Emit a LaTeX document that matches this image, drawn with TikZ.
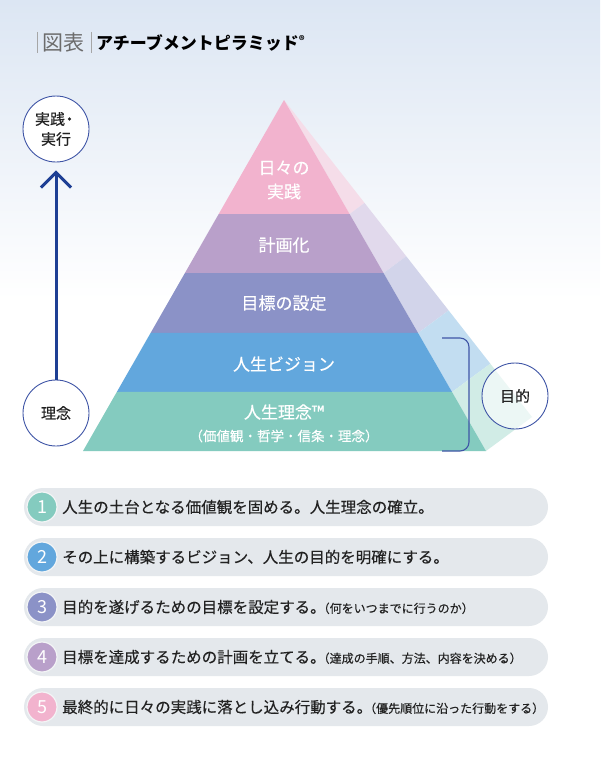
\documentclass[tikz,border=0pt]{standalone}
\usepackage{fontspec}
\setmainfont{Noto Sans CJK JP}
\newfontfamily\jpm{Noto Sans CJK JP}[FakeBold=0.3]
\usetikzlibrary{calc,arrows.meta}
\definecolor{bgtop}{HTML}{DCE6F3}
\definecolor{cpink}{HTML}{F2B3CE}
\definecolor{clav}{HTML}{B9A0CA}
\definecolor{cpur}{HTML}{8B92C7}
\definecolor{cblue}{HTML}{62A7DD}
\definecolor{cgreen}{HTML}{84CBBF}
\definecolor{spink}{HTML}{F5DDE9}
\definecolor{slav}{HTML}{E1D9EC}
\definecolor{spur}{HTML}{D2D4EA}
\definecolor{sblue}{HTML}{C2DDF1}
\definecolor{sgreen}{HTML}{D1ECE6}
\definecolor{navy}{HTML}{1E3F94}
\definecolor{ring}{HTML}{3F55A6}
\definecolor{pillgray}{HTML}{E4E8EC}
\definecolor{txt}{HTML}{222222}
\tikzset{
  lbl/.style={text=white, inner sep=0pt, align=center, font=\jpm\fontsize{17}{24}\selectfont},
  ringc/.style={circle, draw=ring, line width=0.9pt, fill=white, minimum size=66pt, inner sep=0pt, align=center, text=txt, font=\jpm\fontsize{15}{20}\selectfont},
  pill/.style={rounded corners=19pt, fill=pillgray, minimum width=524pt, minimum height=38pt, inner sep=0pt},
  numc/.style={circle, minimum size=30pt, inner sep=0pt, draw=white!55!pillgray, line width=1.2pt, text=white, font=\fontsize{18}{18}\selectfont},
  itemtxt/.style={anchor=west, inner sep=0pt, text=txt, font=\jpm\fontsize{15.5}{15.5}\selectfont},
}
\newcommand{\sm}[1]{\kern-8pt{\fontsize{12}{12}\selectfont #1}}
\begin{document}
\begin{tikzpicture}[x=1pt, y=-1pt]
\useasboundingbox (0,0) rectangle (600,760);
% background
\shade[top color=bgtop, bottom color=white] (0,0) rectangle (600,300);
\fill[white] (0,300) rectangle (600,760);
% title
\draw[gray!70, line width=0.8pt] (37,32) -- (37,53);
\node[inner sep=0pt, text=gray!85!black, font=\fontsize{21}{21}\selectfont] (zuhyo) at (63,43) {図表};
\draw[gray!70, line width=0.8pt] (91,32) -- (91,53);
\node[anchor=west, inner sep=0pt, text=black, font=\fontsize{17}{17}\selectfont\bfseries] (title) at (96,43) {アチーブメントピラミッド\raisebox{5pt}{\fontsize{11}{11}\selectfont ®}};
% pyramid geometry
\coordinate (A) at (284,100);
\coordinate (L) at (83,451);
\coordinate (R) at (486,451);
\coordinate (B) at (532,417);
\foreach \t/\n in {0.3248/1,0.4929/2,0.6638/3,0.8319/4,1/5}{
  \coordinate (l\n) at ($(A)!\t!(L)$);
  \coordinate (r\n) at ($(A)!\t!(R)$);
  \coordinate (b\n) at ($(A)!\t!(B)$);
}
% side face
\fill[spink] (A) -- (r1) -- (b1) -- cycle;
\fill[slav] (r1) -- (b1) -- (b2) -- (r2) -- cycle;
\fill[spur] (r2) -- (b2) -- (b3) -- (r3) -- cycle;
\fill[sblue] (r3) -- (b3) -- (b4) -- (r4) -- cycle;
\fill[sgreen] (r4) -- (b4) -- (b5) -- (r5) -- cycle;
% front face
\fill[cpink] (A) -- (l1) -- (r1) -- cycle;
\fill[clav] (l1) -- (r1) -- (r2) -- (l2) -- cycle;
\fill[cpur] (l2) -- (r2) -- (r3) -- (l3) -- cycle;
\fill[cblue] (l3) -- (r3) -- (r4) -- (l4) -- cycle;
\fill[cgreen] (l4) -- (r4) -- (r5) -- (l5) -- cycle;
% labels
\node[lbl] (t5) at (284,180) {日々の\\実践};
\node[lbl] (t4) at (284,245) {計画化};
\node[lbl] (t3) at (284,303) {目標の設定};
\node[lbl] (t2) at (284,364) {人生ビジョン};
\node[lbl] (t1) at (284,412) {人生理念™};
\node[lbl, font=\jpm\fontsize{13.5}{13.5}\selectfont] (t1b) at (284,436) {（価値観・哲学・信条・理念）};
% bracket and 目的
\draw[ring, line width=1.1pt, rounded corners=9pt] (442,338) -- (469,338) -- (469,451) -- (442,451);
\node[ringc, fill=white, fill opacity=0.6, text opacity=1] (mokuteki) at (515,396) {目的};
% left arrow
\node[ringc] (jissen) at (56,129) {実践\kern-3pt・\\実行};
\node[ringc] (rinen) at (56,413) {理念};
\draw[navy, line width=3pt, -{Straight Barb[length=15pt, width=30pt, line width=3pt]}, shorten >=8pt] (rinen.north) -- (jissen.south);
% list
\foreach \i/\c/\y in {1/cgreen/507,2/cblue/557,3/cpur/607,4/clav/657,5/cpink/707}{
  \node[pill] (p\i) at (286,\y) {};
  \node[numc, fill=\c] (n\i) at (42,\y) {\i};
}
\node[itemtxt] (s1) at (62,507) {人生の土台となる価値観を固める。人生理念の確立。};
\node[itemtxt] (s2) at (62,557) {その上に構築するビジョン、人生の目的を明確にする。};
\node[itemtxt] (s3) at (62,607) {目的を遂げるための目標を設定する。\sm{（何をいつまでに行うのか）}};
\node[itemtxt] (s4) at (62,657) {目標を達成するための計画を立てる。\sm{（達成の手順、方法、内容を決める）}};
\node[itemtxt] (s5) at (62,707) {最終的に日々の実践に落とし込み行動する。\sm{（優先順位に沿った行動をする）}};
\end{tikzpicture}
\end{document}
